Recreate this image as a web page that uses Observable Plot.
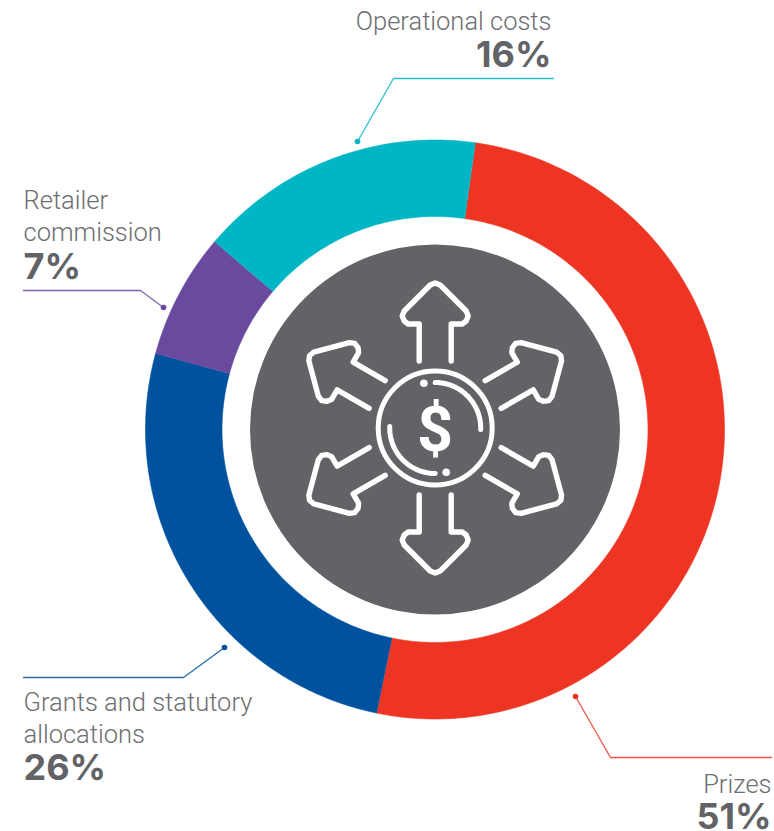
<!DOCTYPE html>
<html>
<head>
<meta charset="utf-8">
<script src="https://cdn.jsdelivr.net/npm/d3@7"></script>
<script src="https://cdn.jsdelivr.net/npm/@observablehq/plot@0.6"></script>
<style>
html,body{margin:0;padding:0;background:#fff}
svg{display:block}
</style>
</head>
<body>
<div id="chart"></div>
<script>
// Data
const categories = ["Prizes", "Grants and statutory allocations", "Retailer commission", "Operational costs"];
const shares = [51, 26, 7, 16];
const sliceColors = ["#ee3524", "#00529f", "#6a4a9e", "#00b5c4"];

// Label rows: text lines and percentage labels, in reading order
const labelLines = ["Operational costs", "Retailer", "commission", "Grants and statutory", "allocations", "Prizes"];
const labelX = [551, 23, 23, 23, 23, 771];
const labelY = [29, 208, 240, 710, 742, 792];
const labelAnchor = ["end", "start", "start", "start", "start", "end"];
const pctLabels = ["16%", "7%", "26%", "51%"];
const pctX = [551, 23, 23, 771];
const pctY = [66, 278, 779, 828];
const pctAnchor = ["end", "start", "start", "end"];

// Leader lines: category, waypoints ending at the dot
const leaderNames = ["Operational costs", "Retailer commission", "Grants and statutory allocations", "Prizes"];
const leaderXs = [[553, 393, 357], [23, 140, 163], [23, 183, 224], [771, 610, 575]];
const leaderYs = [[78, 78, 141], [290, 290, 307], [677, 677, 647], [757, 757, 696]];

// Geometry of the ring, in chart units
const cx = 434.5, cy = 429, outerR = 289.5, innerR = 213, discR = 185, startDeg = 8;

const arcs = d3.pie().sort(null).startAngle(startDeg * Math.PI / 180).endAngle((startDeg + 360) * Math.PI / 180)(shares);
const polar = (r, a) => [cx + r * Math.sin(a), cy - r * Math.cos(a)];
const slices = arcs.flatMap((arc, i) => {
  const n = Math.ceil((arc.endAngle - arc.startAngle) * 60);
  const t = d3.range(n + 1).map(k => arc.startAngle + (arc.endAngle - arc.startAngle) * k / n);
  const pts = [...t.map(a => polar(outerR, a)), ...t.reverse().map(a => polar(innerR, a))];
  return pts.map(([x, y]) => ({category: categories[i], x, y}));
});

const leaders = leaderNames.flatMap((name, i) => leaderXs[i].map((x, k) => ({category: name, x, y: leaderYs[i][k]})));
const leaderEnds = leaderNames.map((name, i) => ({category: name, x: leaderXs[i][2], y: leaderYs[i][2]}));

// Icon: one arrow outline (relative to the coin centre), repeated every 60 degrees
const arrowX = [-16, -16, -27, -31, -33, -31, -5, 0, 5, 31, 33, 31, 27, 16, 16];
const arrowY = [-67, -104, -104, -107, -112, -117, -143, -145, -143, -117, -112, -107, -104, -104, -67];
const iconCx = 434.7, iconCy = 427.5;
const arrows = d3.range(6).flatMap(j => {
  const a = j * Math.PI / 3, c = Math.cos(a), s = Math.sin(a);
  return arrowX.map((x, k) => ({id: j, x: iconCx + x * c - arrowY[k] * s, y: iconCy + x * s + arrowY[k] * c}));
});
const coinArc = (id, from, to) => d3.range(from, to + 1, 4).map(d => {
  const a = d * Math.PI / 180;
  return {id, x: iconCx + 45.5 * Math.sin(a), y: iconCy - 45.5 * Math.cos(a)};
});
const coinArcs = [...coinArc("a", 0, 92), ...coinArc("b", 180, 272)];
const coinDots = [{x: iconCx - 11.3, y: iconCy - 44.7}, {x: iconCx + 11, y: iconCy + 44.3}];

const labelRows = labelLines.map((text, i) => ({text, x: labelX[i], y: labelY[i], anchor: labelAnchor[i]}));
const pctRows = pctLabels.map((text, i) => ({text, x: pctX[i], y: pctY[i], anchor: pctAnchor[i]}));
const textMarks = (rows, opts) => ["start", "end"].map(anchor =>
  Plot.text(rows.filter(d => d.anchor === anchor), {x: "x", y: "y", text: "text", textAnchor: anchor, lineAnchor: "bottom", ...opts}));

const chart = Plot.plot({
  width: 774, height: 831,
  margin: 0,
  style: {background: "#fff"},
  x: {axis: null, domain: [0, 774], range: [0, 774]},
  y: {axis: null, domain: [0, 831], range: [0, 831]},
  color: {domain: categories, range: sliceColors},
  marks: [
    Plot.line(slices, {x: "x", y: "y", z: "category", fill: "category", stroke: "category", strokeWidth: 0.6}),
    Plot.dot([{x: cx, y: cy}], {x: "x", y: "y", r: discR, fill: "#626366", stroke: "none"}),

    Plot.line(arrows, {x: "x", y: "y", z: "id", stroke: "#fff", strokeWidth: 5.4, strokeLinejoin: "round", strokeLinecap: "round"}),
    Plot.dot([{x: iconCx, y: iconCy}], {x: "x", y: "y", r: 57, stroke: "#fff", strokeWidth: 5, fill: "none"}),
    Plot.line(coinArcs, {x: "x", y: "y", z: "id", stroke: "#fff", strokeWidth: 5, strokeLinecap: "round"}),
    Plot.dot(coinDots, {x: "x", y: "y", r: 3.8, fill: "#fff", stroke: "none"}),
    Plot.text(["$"], {x: [iconCx], y: [iconCy + 22.5], text: d => d, fontFamily: "Roboto, sans-serif", fontWeight: 700, fontSize: 63, fill: "#fff", lineAnchor: "bottom", textAnchor: "middle"}),

    Plot.line(leaders, {x: "x", y: "y", z: "category", stroke: "category", strokeWidth: 1.3, strokeOpacity: 0.85}),
    Plot.dot(leaderEnds, {x: "x", y: "y", r: 2.8, fill: "category", stroke: "none"}),

    textMarks(labelRows, {fontFamily: "Roboto, sans-serif", fontWeight: 300, fontSize: 25.5, fill: "#6d6e71"}),
    textMarks(pctRows, {fontFamily: "Inter, sans-serif", fontWeight: 700, fontSize: 36, fill: "#626366"})
  ]
});
document.getElementById("chart").append(chart);
</script>
</body>
</html>
